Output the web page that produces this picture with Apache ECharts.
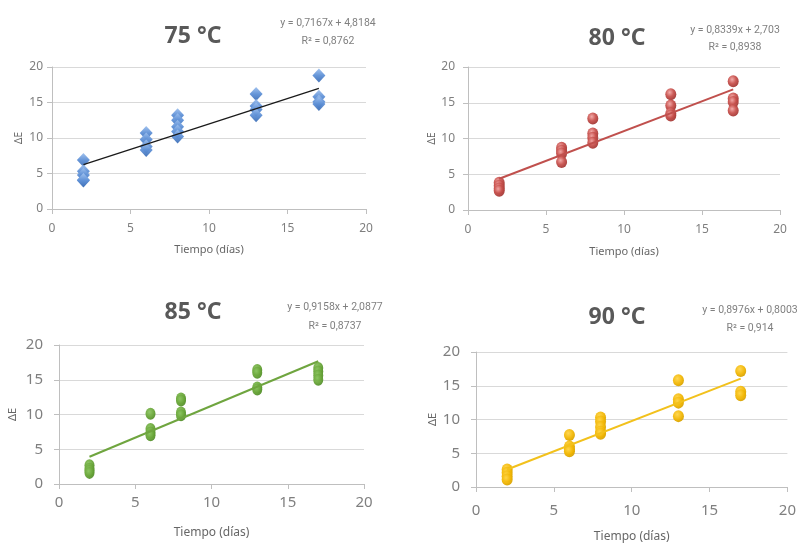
<!DOCTYPE html>
<html>
<head>
<meta charset="utf-8">
<script src="https://cdn.jsdelivr.net/npm/echarts@6/dist/echarts.min.js"></script>
<style>
html,body{margin:0;padding:0;background:#fff;}
#c{width:799px;height:545px;}
</style>
</head>
<body>
<div id="c"></div>
<script>
// ---- data ----
const days = [2, 6, 8, 13, 17];
const titles = ['75 °C', '80 °C', '85 °C', '90 °C'];
const equations = ['y = 0,7167x + 4,8184', 'y = 0,8339x + 2,703', 'y = 0,9158x + 2,0877', 'y = 0,8976x + 0,8003'];
const r2Labels = ['R² = 0,8762', 'R² = 0,8938', 'R² = 0,8737', 'R² = 0,914'];
const slopes = [0.7167, 0.8339, 0.9158, 0.8976];
const intercepts = [4.8184, 2.703, 2.0877, 0.8003];
// ΔE values per day (index aligned with days)
const dE75 = [[6.9, 5.3, 4.8, 4.1, 4.0], [10.7, 9.8, 8.8, 8.3], [13.2, 12.5, 11.6, 10.9, 10.2], [16.2, 14.5, 14.0, 13.2], [18.8, 15.8, 15.1, 14.8]];
const dE80 = [[3.8, 3.4, 3.0, 2.7], [8.7, 8.3, 7.9, 6.7], [12.8, 10.7, 10.1, 9.4], [16.2, 14.6, 13.5, 13.2], [18.0, 15.6, 15.1, 13.9]];
const dE85 = [[2.7, 2.2, 1.9, 1.6], [10.1, 7.9, 7.4, 7.0], [12.3, 12.0, 10.3, 9.9], [16.4, 16.0, 13.9, 13.6], [16.7, 16.2, 15.6, 15.0]];
const dE90 = [[2.6, 2.1, 1.6, 1.1], [7.7, 6.0, 5.6, 5.3], [10.3, 9.7, 8.9, 8.2, 7.9], [15.8, 13.0, 12.5, 10.5], [17.2, 14.1, 13.6]];
const xTicks = [0, 5, 10, 15, 20];
const yTicks = [0, 5, 10, 15, 20];
const xName = 'Tiempo (días)';
const yName = 'ΔE';

// ---- layout / style ----
const allData = [dE75, dE80, dE85, dE90];
const grids = [
  {left: 52, top: 67, width: 314, height: 142},
  {left: 468, top: 67, width: 312, height: 143},
  {left: 59, top: 345, width: 305, height: 139},
  {left: 476, top: 352, width: 316, height: 135}
];
const titlePos = [[188, 20], [612, 22], [188, 296], [612, 301]];
const eqPos = [[323, 9], [730, 17], [330, 293], [745, 296]];
const eqLineH = [18, 17, 19, 18];
const tickFont = [12, 12, 15, 15];
const nameFont = [11, 11, 12, 12];
const yLabelMargin = [9, 13, 16, 16];
const yNameGap = [28, 30, 41, 38];
const xLabelMargin = [14, 14, 11, 16];
const xNameGap = [35, 36, 43, 44];
const markerColors = [
  new echarts.graphic.LinearGradient(0, 0, 0, 1, [{offset: 0, color: '#9EC0EE'}, {offset: 0.5, color: '#5E90D6'}, {offset: 1, color: '#3E6FB6'}]),
  new echarts.graphic.RadialGradient(0.4, 0.35, 0.7, [{offset: 0, color: '#F2A7A5'}, {offset: 0.5, color: '#C9534F'}, {offset: 1, color: '#9E3431'}]),
  new echarts.graphic.RadialGradient(0.4, 0.35, 0.7, [{offset: 0, color: '#8CC562'}, {offset: 0.6, color: '#6AA63A'}, {offset: 1, color: '#4F8A28'}]),
  new echarts.graphic.RadialGradient(0.4, 0.35, 0.7, [{offset: 0, color: '#FFD54A'}, {offset: 0.6, color: '#F2B705'}, {offset: 1, color: '#D39E00'}])
];
const symbols = ['diamond', 'circle', 'circle', 'circle'];
const symbolSizes = [[13, 14], [11, 12], [10, 12], [11, 12]];
const lineColors = ['#1a1a1a', '#C0504D', '#6FA53F', '#F2C11C'];
const lineWidths = [1.3, 2, 2, 2];
const eqFam = 'Roboto, "Liberation Sans", sans-serif';
const titleFam = '"Noto Sans", "Liberation Sans", sans-serif';

const option = {
  backgroundColor: '#ffffff',
  animation: false,
  title: [],
  grid: [],
  xAxis: [],
  yAxis: [],
  series: []
};

allData.forEach((groups, i) => {
  option.grid.push(Object.assign({containLabel: false}, grids[i]));
  option.title.push({
    text: titles[i], left: titlePos[i][0], top: titlePos[i][1], textAlign: 'center',
    textStyle: {fontFamily: titleFam, fontSize: 23, fontWeight: 'bold', color: '#595959'}
  });
  option.title.push({
    text: equations[i] + '\n' + r2Labels[i], left: eqPos[i][0], top: eqPos[i][1], textAlign: 'center',
    textStyle: {fontFamily: eqFam, fontSize: 10.5, fontWeight: 'normal', color: '#808080', lineHeight: eqLineH[i], align: 'center'}
  });
  option.xAxis.push({
    type: 'value', gridIndex: i, min: xTicks[0], max: xTicks[xTicks.length - 1], interval: xTicks[1] - xTicks[0],
    name: xName, nameLocation: 'middle', nameGap: xNameGap[i],
    nameTextStyle: {fontFamily: titleFam, fontSize: nameFont[i], color: '#666666'},
    axisLine: {show: true, lineStyle: {color: '#BFBFBF', width: 1}},
    axisTick: {show: true, length: 5, inside: false, lineStyle: {color: '#BFBFBF'}},
    axisLabel: {fontFamily: titleFam, fontSize: tickFont[i], color: '#7f7f7f', margin: xLabelMargin[i]},
    splitLine: {show: false}
  });
  option.yAxis.push({
    type: 'value', gridIndex: i, min: yTicks[0], max: yTicks[yTicks.length - 1], interval: yTicks[1] - yTicks[0],
    name: yName, nameLocation: 'middle', nameGap: yNameGap[i], nameRotate: 90,
    nameTextStyle: {fontFamily: titleFam, fontSize: nameFont[i] - 1, color: '#666666'},
    axisLine: {show: true, lineStyle: {color: '#BFBFBF', width: 1}},
    axisTick: {show: true, length: 5, inside: false, lineStyle: {color: '#BFBFBF'}},
    axisLabel: {fontFamily: titleFam, fontSize: tickFont[i], color: '#7f7f7f', margin: yLabelMargin[i]},
    splitLine: {show: true, lineStyle: {color: '#D9D9D9', width: 1}}
  });
  const pts = [];
  groups.forEach((vals, k) => vals.forEach(v => pts.push([days[k], v])));
  option.series.push({
    type: 'scatter', xAxisIndex: i, yAxisIndex: i, data: pts,
    symbol: symbols[i], symbolSize: symbolSizes[i],
    itemStyle: {color: markerColors[i], opacity: 0.95}
  });
  const x0 = days[0], x1 = days[days.length - 1];
  option.series.push({
    type: 'line', xAxisIndex: i, yAxisIndex: i, showSymbol: false, symbol: 'none', z: 3,
    data: [[x0, slopes[i] * x0 + intercepts[i]], [x1, slopes[i] * x1 + intercepts[i]]],
    lineStyle: {color: lineColors[i], width: lineWidths[i]}
  });
});

const chart = echarts.init(document.getElementById('c'), null, {renderer: 'canvas'});
chart.setOption(option);
</script>
</body>
</html>
